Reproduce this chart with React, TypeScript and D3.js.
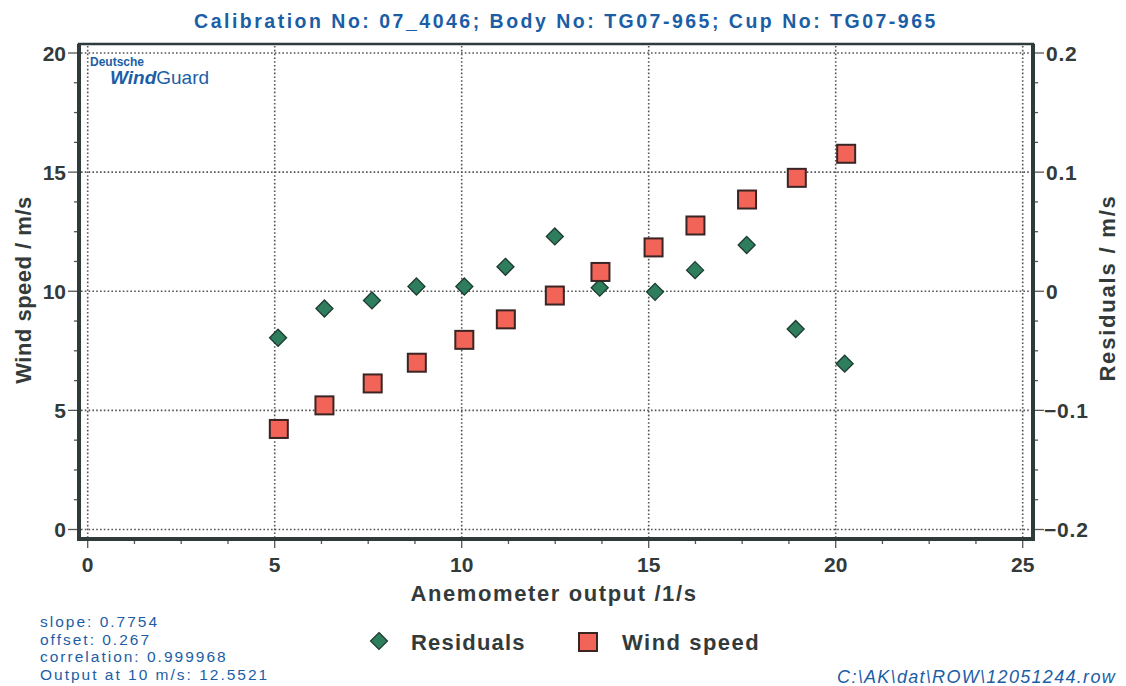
import React from "react";
import * as d3 from "d3";

// Calibration data: anemometer output (1/s), reference wind speed (m/s), fit residuals (m/s)
const frequency = [5.11, 6.33, 7.62, 8.8, 10.07, 11.18, 12.49, 13.71, 15.13, 16.25, 17.63, 18.96, 20.28];
const windSpeed = [4.22, 5.21, 6.13, 7.0, 7.96, 8.82, 9.82, 10.81, 11.84, 12.76, 13.85, 14.76, 15.77];
const residualFreq = [5.09, 6.33, 7.6, 8.79, 10.07, 11.17, 12.49, 13.69, 15.17, 16.24, 17.62, 18.93, 20.24];
const residuals = [-0.039, -0.0145, -0.0077, 0.004, 0.004, 0.0205, 0.046, 0.003, -0.0005, 0.0177, 0.0388, -0.0317, -0.0608];

const xTicks = [0, 5, 10, 15, 20, 25];
const yLeftTicks = [0, 5, 10, 15, 20];
const yRightTicks = [-0.2, -0.1, 0, 0.1, 0.2];

const fitInfo = ["slope: 0.7754", "offset: 0.267", "correlation: 0.999968", "Output at 10 m/s: 12.5521"];
const title = "Calibration No: 07_4046; Body No: TG07-965; Cup No: TG07-965";
const filePath = "C:\\AK\\dat\\ROW\\12051244.row";

const W = 1126;
const H = 686;
const frame = { left: 79, right: 1033, top: 44, bottom: 539 };

const BLUE = "#1c5ea6";
const DARK = "#2f3b3b";
const TXT = "#333a3a";
const GREEN = "#2e7d5c";
const RED = "#f26457";
const FONT = "'Liberation Sans', Arial, sans-serif";

export default function App() {
  const x = d3.scaleLinear().domain([0, 25]).range([87.7, 1022.7]);
  const yL = d3.scaleLinear().domain([0, 20]).range([529.5, 53]);
  const yR = d3.scaleLinear().domain([-0.2, 0.2]).range([529.5, 53]);

  const xMinor = d3.range(0, 25.001, 1.25);
  const yLMinor = d3.range(0, 20.001, 1.25);
  const yRMinor = d3.range(-0.2, 0.2001, 0.025);

  const sq = 18;
  const dia = 8.5;
  const diamondPath = (cx: number, cy: number, r: number) =>
    `M${cx},${cy - r}L${cx + r},${cy}L${cx},${cy + r}L${cx - r},${cy}Z`;

  return (
    <svg
      width={W}
      height={H}
      viewBox={`0 0 ${W} ${H}`}
      style={{ position: "absolute", left: 0, top: 0, background: "#fff" }}
      fontFamily={FONT}
    >
      <rect x={0} y={0} width={W} height={H} fill="#fff" />

      {/* title */}
      <text x={566} y={28} textAnchor="middle" fontSize={19.5} fontWeight="bold" fill={BLUE} letterSpacing={2.5}>
        {title}
      </text>

      {/* dotted grid */}
      <g stroke="#555" strokeWidth={1.6} strokeDasharray="1.6,2.2">
        {xTicks.map((t) => (
          <line key={"gx" + t} x1={x(t)} x2={x(t)} y1={frame.top + 2} y2={frame.bottom - 2} />
        ))}
        {yLeftTicks.map((t) => (
          <line key={"gy" + t} x1={frame.left + 2} x2={frame.right - 2} y1={yL(t)} y2={yL(t)} />
        ))}
      </g>

      {/* axis ticks */}
      <g stroke="#555" strokeWidth={1.3}>
        {xMinor.map((t, i) => (
          <line key={"xt" + i} x1={x(t)} x2={x(t)} y1={frame.bottom} y2={frame.bottom + (i % 4 === 0 ? 9 : 5)} />
        ))}
        {yLMinor.map((t, i) => (
          <line key={"yl" + i} x1={frame.left - (i % 4 === 0 ? 11 : 5)} x2={frame.left} y1={yL(t)} y2={yL(t)} />
        ))}
        {yRMinor.map((t, i) => (
          <line key={"yr" + i} x1={frame.right} x2={frame.right + (i % 4 === 0 ? 11 : 5)} y1={yR(t)} y2={yR(t)} />
        ))}
      </g>

      {/* frame */}
      <rect
        x={frame.left}
        y={frame.top}
        width={frame.right - frame.left}
        height={frame.bottom - frame.top}
        fill="none"
        stroke={DARK}
        strokeWidth={2.5}
      />
      <path
        d={`M${frame.left},${frame.top}V${frame.bottom}H${frame.right}V${frame.top}`}
        fill="none"
        stroke={DARK}
        strokeWidth={4}
      />

      {/* tick labels */}
      <g fontSize={21} fontWeight="bold" fill={TXT}>
        {xTicks.map((t) => (
          <text key={"xl" + t} x={x(t)} y={572} textAnchor="middle">
            {t}
          </text>
        ))}
        {yLeftTicks.map((t) => (
          <text key={"yll" + t} x={66} y={yL(t) + 7.5} textAnchor="end">
            {t}
          </text>
        ))}
        {yRightTicks.map((t) => (
          <text key={"yrl" + t} x={t < 0 ? 1044 : 1046} y={yR(t) + 7.5} textAnchor="start" letterSpacing={0.8}>
            {t === 0 ? "0" : d3.format(".1f")(t)}
          </text>
        ))}
      </g>

      {/* axis titles */}
      <g fontSize={22} fontWeight="bold" fill={TXT}>
        <text x={554} y={601} textAnchor="middle" letterSpacing={1.6}>
          Anemometer output /1/s
        </text>
        <text transform={`translate(31,290) rotate(-90)`} textAnchor="middle" letterSpacing={0.5}>
          Wind speed / m/s
        </text>
        <text transform={`translate(1115,288) rotate(-90)`} textAnchor="middle" letterSpacing={1.8}>
          Residuals / m/s
        </text>
      </g>

      {/* logo */}
      <text x={90} y={66} fontSize={12} fontWeight="bold" fill={BLUE}>
        Deutsche
      </text>
      <text x={110} y={84} fontSize={19} fill={BLUE}>
        <tspan fontWeight="bold" fontStyle="italic">
          Wind
        </tspan>
        <tspan>Guard</tspan>
      </text>

      {/* residual diamonds */}
      <g fill={GREEN} stroke="#1e3b30" strokeWidth={1.3}>
        {residuals.map((r, i) => (
          <path key={"d" + i} d={diamondPath(x(residualFreq[i]), yR(r), dia)} />
        ))}
      </g>

      {/* wind speed squares */}
      <g fill={RED} stroke="#3a2424" strokeWidth={2}>
        {windSpeed.map((v, i) => (
          <rect key={"s" + i} x={x(frequency[i]) - sq / 2} y={yL(v) - sq / 2} width={sq} height={sq} />
        ))}
      </g>

      {/* legend */}
      <path d={diamondPath(379, 641, 8.5)} fill={GREEN} stroke="#1e3b30" strokeWidth={1.2} />
      <text x={411} y={650} fontSize={22} fontWeight="bold" fill={TXT} letterSpacing={1.2}>
        Residuals
      </text>
      <rect x={579} y={633} width={18} height={18} fill={RED} stroke="#3a2424" strokeWidth={2} />
      <text x={622} y={650} fontSize={22} fontWeight="bold" fill={TXT} letterSpacing={1.5}>
        Wind speed
      </text>

      {/* fit summary */}
      <g fontSize={15.5} fill={BLUE} letterSpacing={2}>
        {fitInfo.map((s, i) => (
          <text key={"f" + i} x={40} y={627 + i * 17.7}>
            {s}
          </text>
        ))}
      </g>

      {/* data file path */}
      <text x={1116} y={683} textAnchor="end" fontSize={18} fontStyle="italic" fill={BLUE} letterSpacing={1.3}>
        {filePath}
      </text>
    </svg>
  );
}
